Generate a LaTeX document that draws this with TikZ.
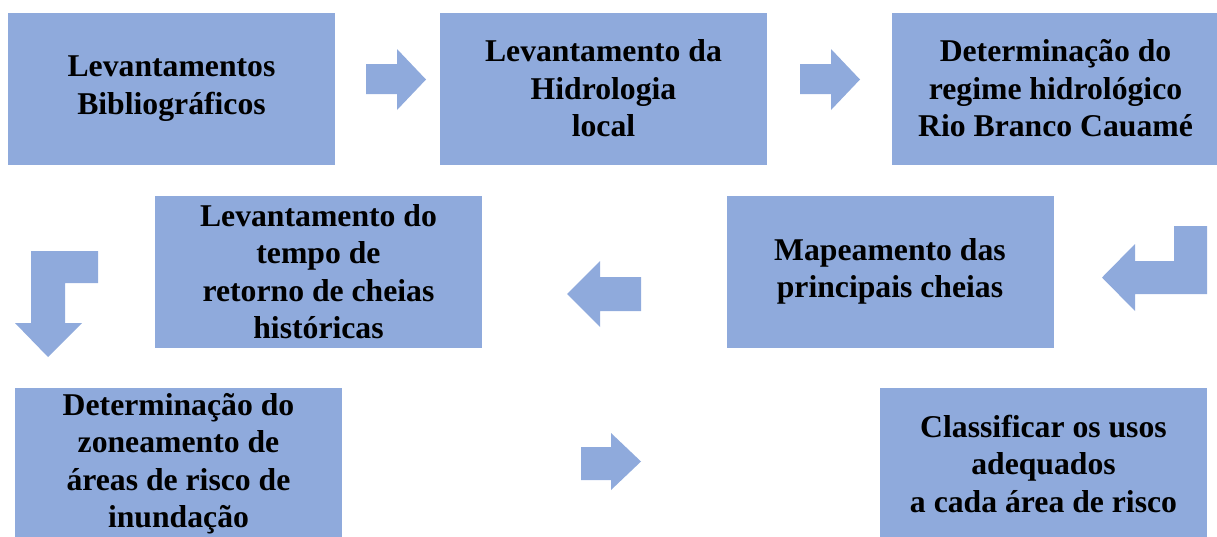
\documentclass[tikz,border=0pt]{standalone}
\usepackage{fontspec}
\setmainfont{Liberation Serif}
\definecolor{azulcaixa}{RGB}{143,170,220}
\tikzset{
  etapa/.style={fill=azulcaixa, minimum width=327pt, minimum height=152pt, inner sep=0pt,
    align=center, font=\fontsize{31.7}{37.5}\selectfont\bfseries},
  seta/.style={fill=azulcaixa}
}
\begin{document}
\begin{tikzpicture}[x=1pt, y=-1pt]
\useasboundingbox (0,0) rectangle (1217,536);
\clip (0,0) rectangle (1217,536);
% Primeira linha
\node[etapa] (biblio) at (171.5,88.5) {Levantamentos\\Bibliogr\'aficos};
\node[etapa] (hidro) at (603.5,88.5) {Levantamento da\\Hidrologia\\local};
\node[etapa] (regime) at (1055.5,88.5) {Determina\c{c}\~ao do\\regime hidrol\'ogico\\Rio Branco Cauam\'e};
% Segunda linha
\node[etapa] (tempo) at (318.5,271.5) {Levantamento do\\tempo de\\retorno de cheias\\hist\'oricas};
\node[etapa] (mapa) at (890,271.5) {Mapeamento das\\principais cheias};
% Terceira linha (cortada embaixo)
\node[etapa] (zonas) at (178.5,463.5) {Determina\c{c}\~ao do\\zoneamento de\\\'areas de risco de\\inunda\c{c}\~ao};
\node[etapa] (usos) at (1043.5,463.5) {Classificar os usos\\adequados\\a cada \'area de risco};
% Setas da primeira linha
\fill[seta] (366,64) -- (397,64) -- (397,49) -- (426,79.5) -- (397,110) -- (397,94) -- (366,94) -- cycle;
\fill[seta] (800,64) -- (831,64) -- (831,49) -- (860,79.5) -- (831,110) -- (831,94) -- (800,94) -- cycle;
% Seta dobrada (direita, para a esquerda)
\fill[seta] (1174,226) -- (1207,226) -- (1207,294) -- (1135,294) -- (1135,311) -- (1102,277.5)
  -- (1135,244) -- (1135,261) -- (1174,261) -- cycle;
% Seta da segunda linha
\fill[seta] (641,277) -- (600,277) -- (600,261) -- (567,294) -- (600,327) -- (600,311) -- (641,311) -- cycle;
% Seta dobrada (esquerda, para baixo)
\fill[seta] (98,251) -- (98,283) -- (65,283) -- (65,323) -- (82,323) -- (48,357) -- (15,323)
  -- (31,323) -- (31,251) -- cycle;
% Seta da terceira linha
\fill[seta] (581,447) -- (611,447) -- (611,433) -- (641,461.5) -- (611,490) -- (611,480) -- (581,480) -- cycle;
\end{tikzpicture}
\end{document}
